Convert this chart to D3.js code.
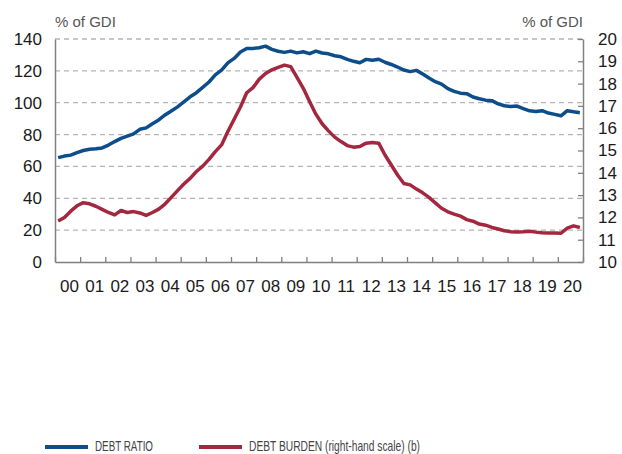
<!DOCTYPE html>
<html>
<head>
<meta charset="utf-8">
<script src="https://cdn.jsdelivr.net/npm/d3@7"></script>
<style>
  body { margin: 0; background: #fff; }
  svg { display: block; font-family: "Liberation Sans", Arial, sans-serif; }
</style>
</head>
<body>
<svg id="chart"></svg>
<script>
// quarterly data, 2000Q1 .. 2020Q4
const years = d3.range(2000, 2021);
const yearLabels = years.map(y => String(y).slice(2));
const leftTicks = [0, 20, 40, 60, 80, 100, 120, 140];
const rightTicks = [10, 11, 12, 13, 14, 15, 16, 17, 18, 19, 20];

const debtRatio = [
  65.5, 66.5, 67.1, 68.7, 70.0, 70.8, 71.1, 71.6, 73.4, 75.6, 77.6, 79.0,
  80.4, 83.3, 84.2, 86.8, 89.2, 92.3, 94.8, 97.4, 100.5, 103.7, 106.3, 109.6,
  113.0, 117.5, 120.5, 125.0, 127.8, 131.8, 134.0, 134.1, 134.5, 135.5, 133.5, 132.3,
  131.6, 132.4, 131.3, 132.0, 130.8, 132.4, 131.2, 130.7, 129.5, 128.8, 127.2, 126.0,
  125.1, 127.2, 126.6, 127.3, 125.4, 124.0, 122.4, 120.5, 119.5, 120.3, 118.0, 115.5,
  113.2, 111.7, 108.8, 107.1, 106.0, 105.7, 103.6, 102.5, 101.6, 101.3, 99.3, 98.1,
  97.6, 97.9, 96.3, 94.9, 94.5, 95.0, 93.5, 92.7, 91.8, 95.0, 94.3, 93.7
];
const debtBurden = [
  11.84, 12.0, 12.28, 12.52, 12.66, 12.61, 12.5, 12.36, 12.22, 12.11, 12.31, 12.22,
  12.26, 12.2, 12.09, 12.22, 12.37, 12.6, 12.9, 13.2, 13.5, 13.75, 14.06, 14.3,
  14.6, 14.95, 15.25, 15.85, 16.4, 16.95, 17.59, 17.82, 18.2, 18.45, 18.62, 18.73,
  18.83, 18.76, 18.28, 17.79, 17.2, 16.63, 16.2, 15.88, 15.6, 15.4, 15.22, 15.15,
  15.18, 15.33, 15.36, 15.33, 14.8, 14.35, 13.9, 13.52, 13.46, 13.27, 13.1, 12.9,
  12.65, 12.41, 12.25, 12.15, 12.06, 11.9, 11.83, 11.7, 11.65, 11.55, 11.48, 11.4,
  11.36, 11.35, 11.36, 11.38, 11.34, 11.31, 11.3, 11.3, 11.29, 11.52, 11.62, 11.55
];
const seriesNames = ["DEBT RATIO", "DEBT BURDEN (right-hand scale) (b)"];
const seriesColors = ["#0d4d8b", "#a3283f"];

const W = 622, H = 454;
const m = { left: 55, right: 39, top: 39, bottom: 192 };
const svg = d3.select("#chart").attr("width", W).attr("height", H);

const x = d3.scaleLinear().domain([2000, 2021]).range([m.left, W - m.right]);
const yL = d3.scaleLinear().domain([0, 140]).range([H - m.bottom, m.top]);
const yR = d3.scaleLinear().domain([10, 20]).range([H - m.bottom, m.top]);
const qx = i => x(2000 + (i + 0.5) / 4);

// gridlines
svg.append("g")
  .selectAll("line")
  .data(leftTicks.filter(d => d > 0))
  .join("line")
  .attr("x1", x(2000)).attr("x2", x(2021))
  .attr("y1", d => yL(d)).attr("y2", d => yL(d))
  .attr("stroke", "#b4b4b4").attr("stroke-width", 1.3)
  .attr("stroke-dasharray", "5,4");

// left axis
const gl = svg.append("g")
  .attr("transform", `translate(${m.left},0)`)
  .call(d3.axisLeft(yL).tickValues(leftTicks).tickSize(0).tickPadding(13));
gl.select(".domain").attr("stroke", "#808080").attr("stroke-width", 1.5);
gl.selectAll("text").attr("font-size", 17).attr("fill", "#1a1a1a").attr("font-family", "Liberation Sans, Arial, sans-serif");

// right axis
const gr = svg.append("g")
  .attr("transform", `translate(${W - m.right},0)`)
  .call(d3.axisRight(yR).tickValues(rightTicks).tickSizeInner(-5).tickSizeOuter(0).tickPadding(15));
gr.select(".domain").attr("stroke", "#808080").attr("stroke-width", 1.5);
gr.selectAll(".tick line").attr("stroke", "#808080").attr("stroke-width", 1.3);
gr.selectAll("text").attr("font-size", 17).attr("fill", "#1a1a1a").attr("font-family", "Liberation Sans, Arial, sans-serif");

// bottom axis
const gb = svg.append("g")
  .attr("transform", `translate(0,${H - m.bottom})`)
  .call(d3.axisBottom(x).tickValues(d3.range(2000, 2022)).tickSizeInner(-5).tickSizeOuter(0).tickFormat(""));
gb.select(".domain").attr("stroke", "#808080").attr("stroke-width", 1.5);
gb.selectAll(".tick line").attr("stroke", "#808080").attr("stroke-width", 1.3);
gb.append("g").selectAll("text")
  .data(years)
  .join("text")
  .attr("x", d => x(d + 0.5) + 2)
  .attr("y", 30)
  .attr("text-anchor", "middle")
  .attr("font-size", 17)
  .attr("fill", "#1a1a1a")
  .text((d, i) => yearLabels[i]);

// axis titles
svg.append("text").attr("x", m.left).attr("y", 27)
  .attr("font-size", 15).attr("fill", "#555").text("% of GDI");
svg.append("text").attr("x", W - m.right).attr("y", 27)
  .attr("text-anchor", "end").attr("font-size", 15).attr("fill", "#555").text("% of GDI");

// lines
const lineL = d3.line().x((d, i) => qx(i)).y(d => yL(d));
const lineR = d3.line().x((d, i) => qx(i)).y(d => yR(d));
svg.append("path").datum(debtRatio).attr("d", lineL)
  .attr("fill", "none").attr("stroke", seriesColors[0]).attr("stroke-width", 3.5)
  .attr("stroke-linejoin", "round");
svg.append("path").datum(debtBurden).attr("d", lineR)
  .attr("fill", "none").attr("stroke", seriesColors[1]).attr("stroke-width", 3.5)
  .attr("stroke-linejoin", "round");

// legend (condensed text, squeezed to the reference widths)
const legX = [45, 199];
const legW = [58, 171];
const leg = svg.append("g").selectAll("g").data(seriesNames).join("g")
  .attr("transform", (d, i) => `translate(${legX[i]},447)`);
leg.append("line").attr("x1", 0).attr("x2", 43).attr("y1", 0).attr("y2", 0)
  .attr("stroke", (d, i) => seriesColors[i]).attr("stroke-width", 4);
leg.append("text").attr("x", 50).attr("y", 4)
  .attr("font-size", 15).attr("fill", "#444")
  .attr("textLength", (d, i) => legW[i])
  .attr("lengthAdjust", "spacingAndGlyphs")
  .text(d => d);
</script>
</body>
</html>
